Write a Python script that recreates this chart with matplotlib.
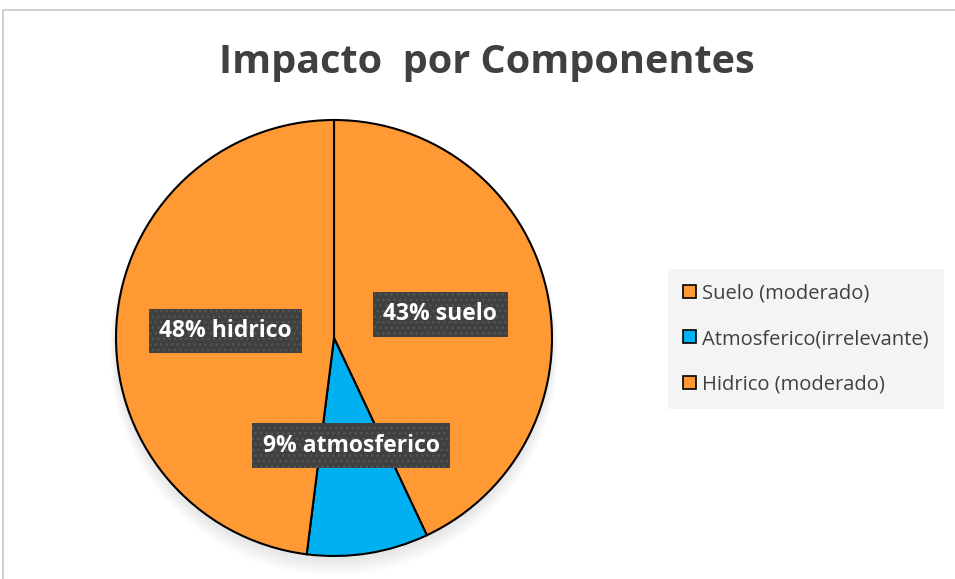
import numpy as np
import matplotlib
matplotlib.use("Agg")
import matplotlib.pyplot as plt
from matplotlib.patches import Rectangle, Circle

plt.rcParams['font.family'] = ['Open Sans', 'DejaVu Sans']

labels = ["48% hidrico", "9% atmosferico", "43% suelo"]
sizes = [48, 9, 43]
colors = ["#FF9933", "#00B0F0", "#FF9933"]
legend_names = ["Suelo (moderado)", "Atmosferico(irrelevante)", "Hidrico (moderado)"]
legend_colors = ["#FF9933", "#00B0F0", "#FF9933"]

W, H = 955, 579
fig = plt.figure(figsize=(W / 100, H / 100), dpi=100)

# chart border
fig.add_artist(Rectangle((3 / W, -0.1), 1.2, (H - 10) / H + 0.1, transform=fig.transFigure,
                         fill=False, ec="#c8c8c8", lw=1.2))

fig.text(487 / W, 1 - 62 / H, "Impacto  por Componentes", ha="center", va="center",
         fontsize=28.5, fontweight="bold", color="#404040")

cx, cy, r = 334, 338, 218
pad = 1.15
ax = fig.add_axes([(cx - r * pad) / W, (H - cy - r * pad) / H, 2 * r * pad / W, 2 * r * pad / H])

# soft shadow
for i in range(8):
    ax.add_patch(Circle((0, -0.02 - i * 0.006), 1.0 + i * 0.004, color="black",
                        alpha=0.012, lw=0, zorder=0))

# order reversed so suelo starts at the top going clockwise
wedges, texts = ax.pie(sizes[::-1], labels=labels[::-1], colors=colors[::-1], startangle=90,
                       counterclock=False, labeldistance=0.5,
                       wedgeprops=dict(edgecolor="black", linewidth=1.5))
plt.rcParams['hatch.color'] = "#5a5a5a"
for t in texts:
    t.set_ha("center")
    t.set_va("center")
    t.set_color("white")
    t.set_fontsize(16.5)
    t.set_fontweight("bold")
    t.set_bbox(dict(boxstyle="square,pad=0.45", fc="#404040", ec="#555555", lw=0, hatch="..."))
ax.set_xlim(-pad, pad)
ax.set_ylim(-pad, pad)
ax.set_aspect("equal")
ax.axis("off")

handles = [Rectangle((0, 0), 1, 1, fc=c, ec="black", lw=1.2) for c in legend_colors]
leg = fig.legend(handles, legend_names, loc="center", bbox_to_anchor=(806 / W, 1 - 339 / H),
                 frameon=True, fancybox=False, facecolor="#f4f4f4", edgecolor="none",
                 fontsize=14.5, handlelength=0.62, handleheight=0.62, handletextpad=0.3,
                 labelspacing=1.25, borderpad=0.75, labelcolor="#404040")
leg.get_frame().set_alpha(1)

fig.savefig("out.png", dpi=100)
